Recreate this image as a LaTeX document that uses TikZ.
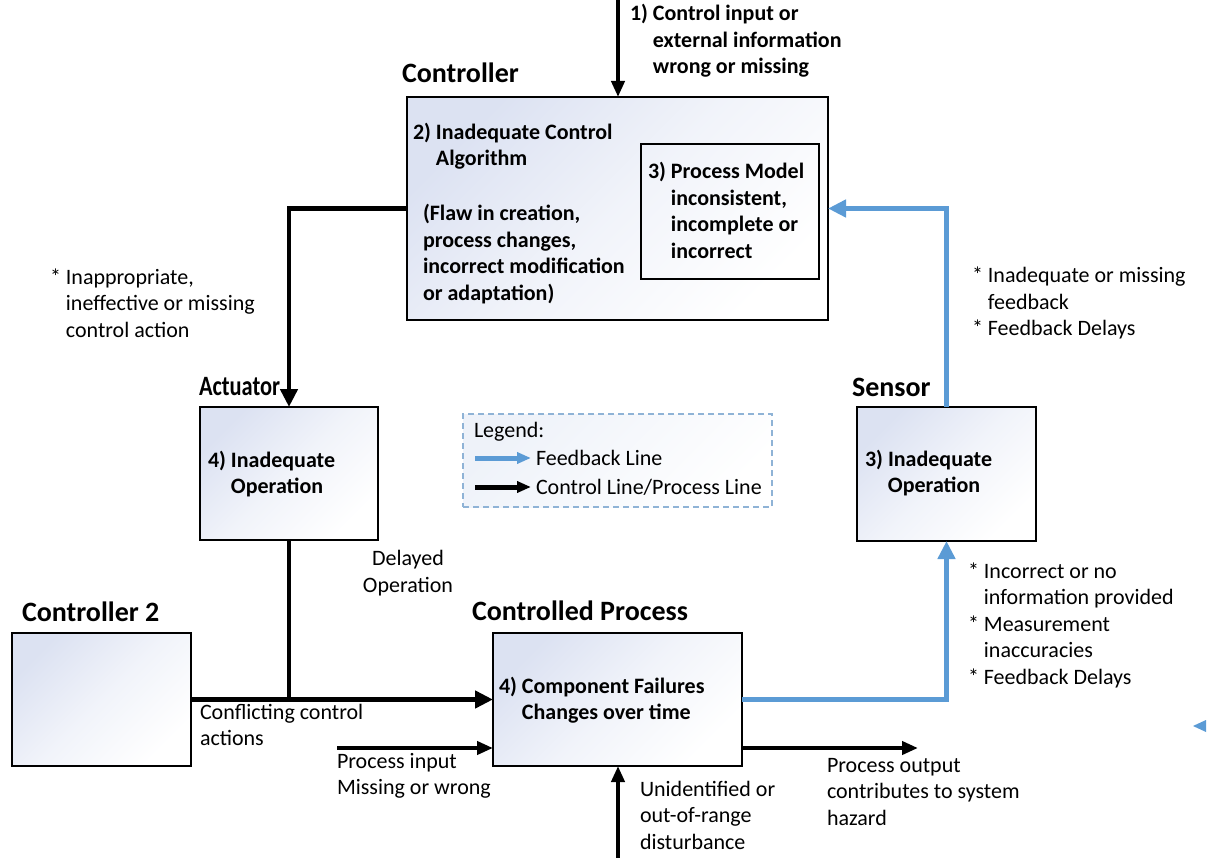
\documentclass[tikz,border=0pt]{standalone}
\usepackage{fontspec}
\setmainfont{Carlito}
\usetikzlibrary{arrows.meta}
\definecolor{fb}{HTML}{5B9BD5}
\definecolor{boxtint}{HTML}{DCE2F2}
\definecolor{legtint}{HTML}{EEF2F9}
\definecolor{legdash}{HTML}{8FB3D6}
\begin{document}
\begin{tikzpicture}[x=1pt,y=-1pt,
  every node/.style={inner sep=0pt, outer sep=0pt},
  blockbox/.style={draw=black, line width=2pt, top color=boxtint, bottom color=white, middle color=white!60!boxtint, shading angle=45, anchor=north west},
  heading/.style={font=\fontsize{28}{32}\selectfont\bfseries, anchor=west},
  bodytext/.style={font=\fontsize{22}{26.5}\selectfont, align=left, anchor=west},
  boldtext/.style={font=\fontsize{22}{26.5}\selectfont\bfseries, align=left, anchor=west},
  ctrl/.style={draw=black, line width=4.5pt, -{Triangle[length=18pt,width=17pt]}},
  ctrlsmall/.style={draw=black, line width=4pt, -{Triangle[length=16pt,width=13pt]}},
  feed/.style={draw=fb, line width=4.5pt, -{Triangle[length=18pt,width=17pt]}},
  plainline/.style={draw=black, line width=4.5pt},
]
\useasboundingbox (0,0) rectangle (1207,858);

% blocks
\node[blockbox, minimum width=421pt, minimum height=223pt] (ctl) at (407,97) {};
\node[draw=black, line width=2pt, anchor=north west, minimum width=178pt, minimum height=135pt] (pm) at (641,144) {};
\node[blockbox, minimum width=178pt, minimum height=133pt] (act) at (200,407) {};
\node[blockbox, minimum width=179pt, minimum height=134pt] (sen) at (857,407) {};
\node[blockbox, minimum width=179pt, minimum height=133pt] (c2) at (12,633) {};
\node[blockbox, minimum width=249pt, minimum height=133pt] (cp) at (493,633) {};

% headings
\node[heading] (hctl) at (402,73) {Controller};
\node[heading, xscale=0.8] (hact) at (199,387) {Actuator};
\node[heading] (hsen) at (852,387) {Sensor};
\node[heading] (hc2) at (22,612) {Controller 2};
\node[heading] (hcp) at (472,611) {Controlled Process};

% texts inside blocks
\node[boldtext] (t2a) at (413,146) {2) Inadequate Control\\\phantom{2) }Algorithm};
\node[boldtext] (t2b) at (423,254) {(Flaw in creation,\\process changes,\\incorrect modification\\or adaptation)};
\node[boldtext] (t3pm) at (648,212) {3) Process Model\\\phantom{3) }inconsistent,\\\phantom{3) }incomplete or\\\phantom{3) }incorrect};
\node[boldtext] (t4act) at (208,474) {4) Inadequate\\\phantom{4) }Operation};
\node[boldtext] (t3sen) at (865,473) {3) Inadequate\\\phantom{3) }Operation};
\node[boldtext] (t4cp) at (499,700) {4) Component Failures\\\phantom{4) }Changes over time};

% free texts
\node[boldtext] (t1) at (630,41) {1) Control input or\\\phantom{1) }external information\\\phantom{1) }wrong or missing};
\node[bodytext] (tca) at (50,303) {* Inappropriate,\\\phantom{* }ineffective or missing\\\phantom{* }control action};
\node[bodytext] (tfb) at (972,303) {* Inadequate or missing\\\phantom{* }feedback\\* Feedback Delays};
\node[bodytext, align=center, anchor=center] (tdel) at (408,573) {Delayed\\Operation};
\node[bodytext] (tsen) at (968,625) {* Incorrect or no\\\phantom{* }information provided\\* Measurement\\\phantom{* }inaccuracies\\* Feedback Delays};
\node[bodytext] (tconf) at (200,725) {Conflicting control\\actions};
\node[bodytext] (tpin) at (337,776) {Process input\\Missing or wrong};
\node[bodytext] (tdist) at (640,815) {Unidentified or\\out-of-range\\disturbance};
\node[bodytext] (tpout) at (827,792) {Process output\\contributes to system\\hazard};

% legend
\node[draw=legdash, dashed, dash pattern=on 6pt off 4pt, line width=1.2pt, top color=legtint, bottom color=white, shading angle=45, anchor=north west, minimum width=309pt, minimum height=93pt] (leg) at (463,414) {};
\node[bodytext] (lt) at (474,432) {Legend:};
\coordinate (lfa) at (475,458);
\coordinate (lfb) at (531,458);
\coordinate (lca) at (475,487);
\coordinate (lcb) at (531,487);
\draw[draw=fb, line width=5pt, -{Triangle[length=14pt,width=11pt]}] (lfa) -- (lfb);
\draw[draw=black, line width=5pt, -{Triangle[length=14pt,width=11pt]}] (lca) -- (lcb);
\node[bodytext] (lfbt) at (536,458) {Feedback Line};
\node[bodytext] (lcbt) at (536,487) {Control Line/Process Line};

% connectors
\coordinate (inTop) at (618,0);
\draw[ctrlsmall] (inTop) -- (ctl.north -| inTop);
\draw[ctrl] (ctl.west) -| (act.north);
\draw[feed] (sen.north) |- (ctl.east);
\draw[plainline] (act.south) -- (act.south |- c2.east);
\draw[ctrl] (c2.east) -- (cp.west);
\coordinate (pin) at (337,748);
\draw[ctrlsmall] (pin) -- (pin -| cp.west);
\coordinate (dist) at (618,858);
\draw[ctrlsmall] (dist) -- (dist |- cp.south);
\coordinate (pout) at (918,748);
\draw[ctrlsmall] (cp.east |- pout) -- (pout);
\draw[feed] (cp.east) -| (sen.south);

% stray arrow tip at the right edge
\fill[fb] (1193,726) -- (1206,720) -- (1206,732) -- cycle;
\end{tikzpicture}
\end{document}
